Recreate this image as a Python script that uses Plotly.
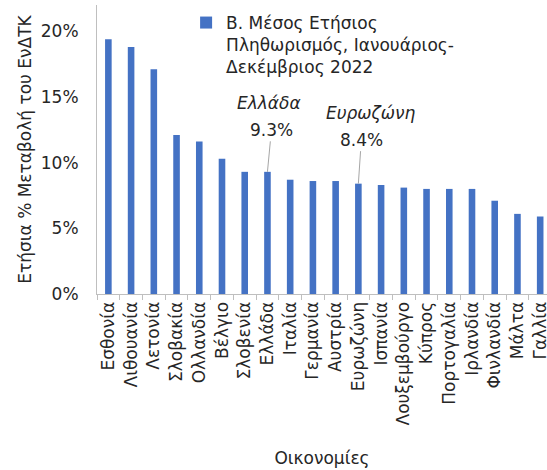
import plotly.graph_objects as go

countries = ["Εσθονία", "Λιθουανία", "Λετονία", "Σλοβακία", "Ολλανδία", "Βέλγιο",
             "Σλοβενία", "Ελλάδα", "Ιταλία", "Γερμανία", "Αυστρία", "Ευρωζώνη",
             "Ισπανία", "Λουξεμβούργο", "Κύπρος", "Πορτογαλία", "Ιρλανδία",
             "Φινλανδία", "Μάλτα", "Γαλλία"]
inflation = [19.4, 18.8, 17.1, 12.1, 11.6, 10.3, 9.3, 9.3, 8.7, 8.6, 8.6, 8.4,
             8.3, 8.1, 8.0, 8.0, 8.0, 7.1, 6.1, 5.9]
series_name = "Β. Μέσος Ετήσιος<br>Πληθωρισμός, Ιανουάριος-<br>Δεκέμβριος 2022"
y_ticks = [0, 5, 10, 15, 20]
y_ticklabels = ["0%", "5%", "10%", "15%", "20%"]

FONT = "DejaVu Sans"
GRAY = "#BFBFBF"
TXT = "#262626"
FS = 17

fig = go.Figure()
fig.add_trace(go.Bar(x=countries, y=inflation, name=series_name,
                     marker=dict(color="#4472C4", line=dict(width=0)),
                     showlegend=True))

fig.update_layout(
    width=547, height=470,
    margin=dict(l=97, r=0, t=5, b=176, autoexpand=False),
    paper_bgcolor="white", plot_bgcolor="white",
    font=dict(family=FONT, size=FS, color=TXT),
    bargap=0.71,
    showlegend=True,
    legend=dict(x=0.198, y=1.0, xanchor="left", yanchor="top",
                font=dict(size=FS, color=TXT), valign="top",
                bgcolor="rgba(0,0,0,0)"),
    xaxis=dict(type="category", range=[-0.5, 19.3], automargin=False,
               showline=True, linecolor=GRAY, linewidth=1,
               ticks="outside", ticklen=5, tickcolor=GRAY, tickson="boundaries",
               tickangle=-90, showgrid=False,
               tickfont=dict(size=FS),
               title=dict(text="Οικονομίες", font=dict(size=FS), standoff=27)),
    yaxis=dict(range=[0, 22], tickvals=y_ticks, ticktext=y_ticklabels, automargin=False,
               showline=True, linecolor=GRAY, linewidth=1,
               ticks="outside", ticklen=14, tickcolor="rgba(0,0,0,0)",
               showgrid=False, zeroline=False,
               tickfont=dict(size=FS),
               title=dict(text="Ετήσια % Μεταβολή του ΕνΔΤΚ", font=dict(size=FS), standoff=4)),
)

fig.add_annotation(x="Ελλάδα", y=9.3, text="9.3%", showarrow=True, arrowhead=0,
                   arrowwidth=1, arrowcolor="#A6A6A6", ax=4, ay=-42,
                   font=dict(size=FS, color=TXT))
fig.add_annotation(x="Ελλάδα", y=9.3, text="<i>Ελλάδα</i>", showarrow=False,
                   xshift=2, yshift=69, font=dict(size=FS, color=TXT))
fig.add_annotation(x="Ευρωζώνη", y=8.4, text="8.4%", showarrow=True, arrowhead=0,
                   arrowwidth=1, arrowcolor="#A6A6A6", ax=3, ay=-44,
                   font=dict(size=FS, color=TXT))
fig.add_annotation(x="Ευρωζώνη", y=8.4, text="<i>Ευρωζώνη</i>", showarrow=False,
                   xshift=13, yshift=71, font=dict(size=FS, color=TXT))

fig.write_html("out.html", config={"displayModeBar": False},
               post_script="document.body.style.margin='0';document.body.style.overflow='hidden';")
